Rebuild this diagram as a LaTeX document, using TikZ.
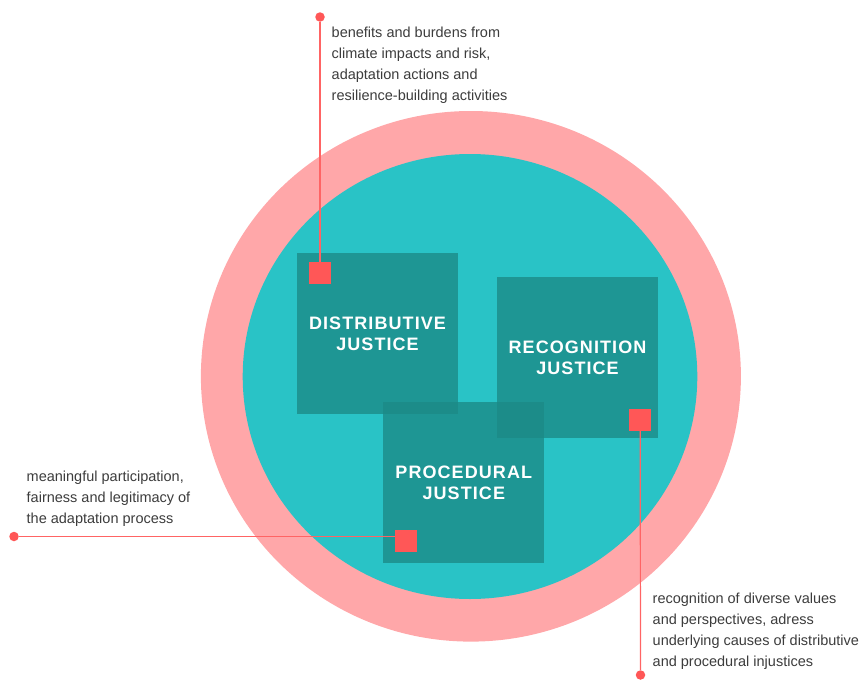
\documentclass[tikz,border=0pt]{standalone}
\usepackage{fontspec}
\setmainfont{Liberation Sans}
\newfontfamily\headfont[LetterSpace=6]{Liberation Sans Bold}
\definecolor{ringpink}{HTML}{FFA7A9}
\definecolor{discteal}{HTML}{29C3C6}
\definecolor{boxteal}{HTML}{1C8A86}
\definecolor{markred}{HTML}{FF5757}
\definecolor{leadred}{HTML}{FF6464}
\definecolor{bodygray}{HTML}{3C3C3C}
\begin{document}
\begin{tikzpicture}[x=1pt,y=-1pt,
  pillar/.style={fill=boxteal,fill opacity=0.78,text opacity=1,minimum size=161pt,
    inner sep=0pt,align=center,text=white,
    font=\headfont\fontsize{18}{21}\selectfont},
  marker/.style={fill=markred,minimum size=22pt,inner sep=0pt},
  enddot/.style={circle,fill=markred,minimum size=9.5pt,inner sep=0pt},
  lead/.style={draw=leadred,line width=1.2pt},
  note/.style={anchor=north west,inner sep=0pt,align=left,text=bodygray,
    font=\fontsize{14.5}{21}\selectfont}]
\useasboundingbox (0,0) rectangle (864,680);

% outer ring and inner disc
\fill[ringpink] (470.9,376.3) ellipse [x radius=270, y radius=265.3];
\fill[discteal] (470,376.5) ellipse [x radius=227.3, y radius=222.5];

% the three forms of justice
\node[pillar] (dist) at (377.5,333.5) {DISTRIBUTIVE\\JUSTICE};
\node[pillar] (reco) at (577.5,357.5) {RECOGNITION\\JUSTICE};
\node[pillar] (proc) at (463.8,482.5) {PROCEDURAL\\JUSTICE};

% markers, end dots and leader lines
\node[marker] (dm) at (320,273) {};
\node[marker] (rm) at (640.2,420) {};
\node[marker] (pm) at (406.2,540.5) {};

\node[enddot] (dd) at (320,17) {};
\node[enddot] (pd) at (14,536.5) {};
\node[enddot] (rd) at (640.5,675) {};

\draw[lead] (dd) -- (dm.north);
\draw[lead] (pd) -- (pd -| pm.west);
\draw[lead] (rm.south) -- (rd);

% descriptions
\node[note] (dtext) at (331.5,27) {benefits and burdens from\\climate impacts and risk,\\adaptation actions and\\resilience-building activities};
\node[note] (ptext) at (26.5,470.5) {meaningful participation,\\fairness and legitimacy of\\the adaptation process};
\node[note] (rtext) at (652.5,593) {recognition of diverse values\\and perspectives, adress\\underlying causes of distributive\\and procedural injustices};
\end{tikzpicture}
\end{document}
